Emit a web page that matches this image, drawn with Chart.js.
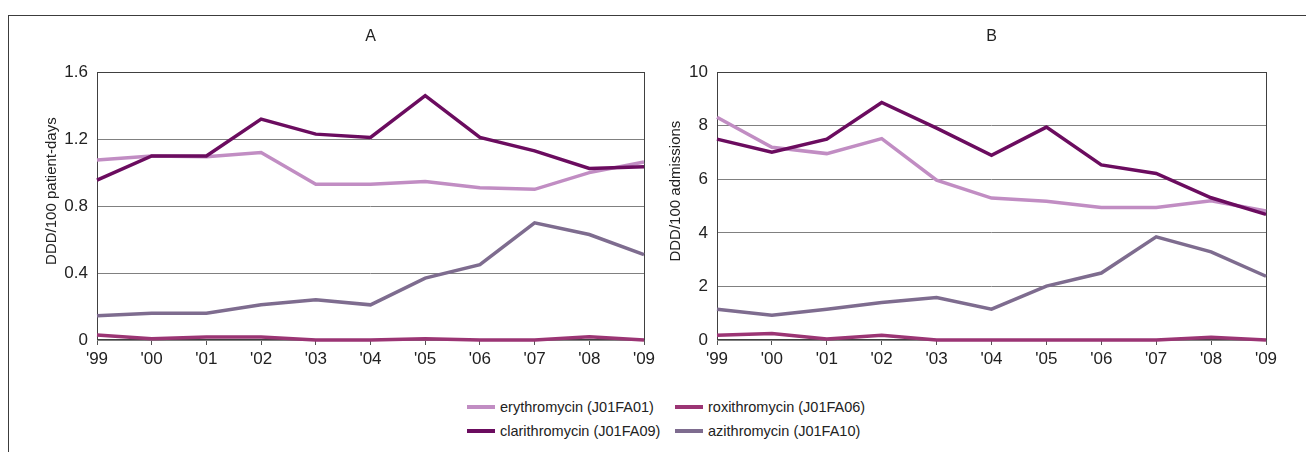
<!DOCTYPE html>
<html>
<head>
<meta charset="utf-8">
<script src="https://cdn.jsdelivr.net/npm/chart.js@4.4.1/dist/chart.umd.min.js"></script>
<style>
    body { margin: 0; background: #fff; width: 1306px; height: 452px; overflow: hidden; position: relative;
           font-family: "Liberation Sans", Arial, sans-serif; }
    #frame { position: absolute; left: 8px; top: 15px; width: 1400px; height: 500px;
             border-top: 1px solid #3c3c3c; border-left: 1px solid #3c3c3c; }
    #chartA { position: absolute; left: 0; top: 0; }
    #chartB { position: absolute; left: 660px; top: 0; }
    #legend { position: absolute; left: 467px; top: 395px; display: grid;
              grid-template-columns: 208px auto; font-size: 14.5px; color: #222; }
    .item { display: flex; align-items: center; height: 24px; }
    .swatch { width: 28px; height: 4px; margin-right: 5px; }
</style>
</head>
<body>
<div id="frame"></div>
<canvas id="chartA" width="660" height="390"></canvas>
<canvas id="chartB" width="646" height="390"></canvas>
<div id="legend"></div>

<script>
const years = ["'99", "'00", "'01", "'02", "'03", "'04", "'05", "'06", "'07", "'08", "'09"];

const drugNames = [
    "erythromycin (J01FA01)",
    "roxithromycin (J01FA06)",
    "clarithromycin (J01FA09)",
    "azithromycin (J01FA10)",
];
const drugColors = ["#c18dc3", "#9b3574", "#6b0c5f", "#7e6c8f"];

// panel A: DDD/100 patient-days
const eryA = [1.075, 1.10, 1.095, 1.12, 0.93, 0.93, 0.947, 0.91, 0.90, 1.00, 1.063];
const roxA = [0.03, 0.007, 0.018, 0.018, 0, 0, 0.007, 0, 0, 0.02, 0];
const claA = [0.955, 1.10, 1.10, 1.32, 1.23, 1.21, 1.46, 1.21, 1.13, 1.025, 1.035];
const aziA = [0.145, 0.16, 0.16, 0.21, 0.24, 0.21, 0.37, 0.45, 0.70, 0.63, 0.51];
const yTicksA = [0, 0.4, 0.8, 1.2, 1.6];
const yLabelsA = ["0", "0.4", "0.8", "1.2", "1.6"];

// panel B: DDD/100 admissions
const eryB = [8.32, 7.2, 6.96, 7.52, 5.97, 5.3, 5.18, 4.95, 4.95, 5.2, 4.82];
const roxB = [0.18, 0.24, 0.04, 0.18, 0, 0, 0, 0, 0, 0.1, 0];
const claB = [7.5, 7.01, 7.5, 8.87, 7.91, 6.9, 7.95, 6.54, 6.22, 5.31, 4.69];
const aziB = [1.15, 0.92, 1.15, 1.4, 1.59, 1.15, 2.01, 2.5, 3.85, 3.29, 2.38];
const yTicksB = [0, 2, 4, 6, 8, 10];
const yLabelsB = ["0", "2", "4", "6", "8", "10"];

const narrow = "'Liberation Sans Narrow', 'Arial Narrow', 'Liberation Sans', Arial, sans-serif";
const regular = "'Liberation Sans', Arial, sans-serif";
const drawOrder = [2, 3, 0, 1]; // clarithromycin on top

// box round plot area + rotated y title
const plotFrame = {
    id: "plotFrame",
    beforeDatasetsDraw(chart, args, opts) {
        const { ctx, chartArea: a } = chart;
        ctx.save();
        ctx.strokeStyle = "#404040";
        ctx.lineWidth = 1;
        const l = Math.round(a.left) + 0.5, t = Math.round(a.top) + 0.5;
        const r = Math.round(a.right) + 0.5, b = Math.round(a.bottom) - 0.5;
        ctx.strokeRect(l, t, r - l, b - t);

        ctx.translate(opts.titleX, (a.top + a.bottom) / 2 + opts.titleShift);
        ctx.rotate(-Math.PI / 2);
        ctx.font = "15px " + regular;
        ctx.fillStyle = "#222";
        ctx.textAlign = "center";
        ctx.textBaseline = "middle";
        ctx.fillText(opts.title, 0, 0);
        ctx.restore();
    }
};

function makePanel(id, title, yTitle, series, tickVals, tickLabels, geo) {
    return new Chart(document.getElementById(id), {
        type: "line",
        data: {
            labels: years,
            datasets: series.map((d, i) => ({
                label: drugNames[i],
                data: d,
                borderColor: drugColors[i],
                backgroundColor: drugColors[i],
                borderWidth: 3.5,
                pointRadius: 0,
                tension: 0,
                clip: false,
                order: drawOrder[i],
            }))
        },
        options: {
            responsive: false,
            animation: false,
            layout: { padding: { left: 0, right: geo.right, top: 0, bottom: 0 } },
            plugins: {
                legend: { display: false },
                tooltip: { enabled: false },
                title: {
                    display: true,
                    text: title,
                    fullSize: false,
                    color: "#222",
                    font: { family: regular, size: 16, weight: "normal" },
                    padding: { top: 27, bottom: 26 }
                },
                plotFrame: { title: yTitle, titleX: geo.titleX, titleShift: -15 }
            },
            scales: {
                x: {
                    type: "category",
                    offset: false,
                    grid: { drawOnChartArea: false, tickLength: 5, color: "#555" },
                    border: { display: false },
                    ticks: { padding: 4, color: "#222", maxRotation: 0, autoSkip: false,
                             font: { family: narrow, size: 17 } },
                    afterFit: s => { s.height = 50; }
                },
                y: {
                    min: tickVals[0],
                    max: tickVals[tickVals.length - 1],
                    afterBuildTicks: s => { s.ticks = tickVals.map(v => ({ value: v })); },
                    grid: { color: "#808080", drawTicks: false },
                    border: { display: false },
                    ticks: { padding: 9, color: "#222", font: { family: narrow, size: 17 },
                             callback: (v, i) => tickLabels[i] },
                    afterFit: s => { s.width = geo.yWidth; }
                }
            }
        },
        plugins: [plotFrame]
    });
}

makePanel("chartA", "A", "DDD/100 patient-days", [eryA, roxA, claA, aziA],
    yTicksA, yLabelsA, { right: 16, yWidth: 97, titleX: 52 });
makePanel("chartB", "B", "DDD/100 admissions", [eryB, roxB, claB, aziB],
    yTicksB, yLabelsB, { right: 40, yWidth: 57, titleX: 16 });

// legend, two columns
const legendOrder = [0, 1, 2, 3];
const legend = document.getElementById("legend");
legendOrder.forEach(i => {
    const item = document.createElement("div");
    item.className = "item";
    item.innerHTML = `<span class="swatch" style="background:${drugColors[i]}"></span>${drugNames[i]}`;
    legend.appendChild(item);
});
</script>
</body>
</html>
